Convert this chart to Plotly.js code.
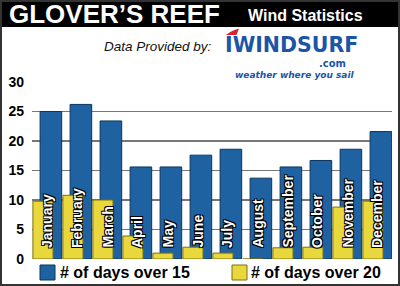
<!DOCTYPE html>
<html><head><meta charset="utf-8">
<script src="https://cdn.plot.ly/plotly-3.0.1.min.js"></script>
<style>html,body{margin:0;padding:0;background:#fff;}#c{width:400px;height:286px;}</style>
</head><body><div id="c"></div>
<script>
const months = ["January","February","March","April","May","June","July","August","September","October","November","December"];
const over15 = [25.0, 26.2, 23.4, 15.6, 15.6, 17.6, 18.6, 13.7, 15.6, 16.7, 18.6, 21.6];
const over20 = [9.8, 10.8, 10.0, 3.9, 1.0, 2.0, 1.0, 0, 1.9, 2.0, 8.8, 9.8];
const yTicks = [0, 5, 10, 15, 20, 25, 30];
const legendLabels = ["# of days over 15", "# of days over 20"];

const W = 400, H = 286, L = 32, R = 8, T = 82, B = 27;
const pw = W - L - R, ph = H - T - B;
const px = x => (x - L) / pw;
const py = y => (H - B - y) / ph;
const xs = months.map((m, i) => i);

const blue = '#1f62a2', blueLine = '#0b355e';
const yellow = '#e9d83c', yellowLine = '#7d7010';

const traces = [
  {type: 'bar', x: xs, y: over15, name: legendLabels[0], offset: -0.23, width: 0.72,
   marker: {color: blue, line: {color: blueLine, width: 1}}, hoverinfo: 'skip'},
  {type: 'bar', x: xs, y: over20, name: legendLabels[1], offset: -0.47, width: 0.67,
   marker: {color: yellow, line: {color: yellowLine, width: 1}}, hoverinfo: 'skip'}
];

const outline = '1px 1px 0 #000, -1px -1px 0 #000, 1px -1px 0 #000, -1px 1px 0 #000';
const ann = months.map((m, i) => ({
  x: i, y: 0, xref: 'x', yref: 'y', text: m, showarrow: false, textangle: -90,
  xanchor: 'center', yanchor: 'bottom', yshift: 9,
  font: {family: 'Liberation Sans, Arial, sans-serif', size: 14, color: '#fff', weight: 'bold', shadow: outline}
}));

function txt(text, x, y, opts) {
  return Object.assign({text, x: px(x), y: py(y), xref: 'paper', yref: 'paper', showarrow: false,
    xanchor: 'left', yanchor: 'middle'}, opts);
}
ann.push(txt("GLOVER’S REEF", 7, 14, {font: {family: 'Liberation Sans, Arial, sans-serif', size: 26, color: '#fff', weight: 'bold'}}));
ann.push(txt("Wind Statistics", 246, 15, {font: {family: 'Liberation Sans, Arial, sans-serif', size: 16, color: '#fff', weight: 'bold'}}));
ann.push(txt("Data Provided by:", 102, 47, {font: {family: 'Liberation Sans, sans-serif', size: 13.5, color: '#111', style: 'italic'}}));
ann.push(txt("IWINDSURF", 223, 45, {font: {family: 'DejaVu Sans, sans-serif', size: 20.5, color: '#1a55a8', weight: 'bold'}}));
ann.push(txt(".com", 317, 63.5, {font: {family: 'DejaVu Sans, sans-serif', size: 10, color: '#1a55a8', weight: 'bold'}}));
ann.push(txt("weather where you sail", 233, 75.5, {font: {family: 'DejaVu Sans, sans-serif', size: 9, color: '#1a55a8', weight: 'bold', style: 'italic'}}));
ann.push(txt(legendLabels[0], 58, 272, {font: {family: 'Liberation Sans, Arial, sans-serif', size: 16, color: '#000', weight: 'bold'}}));
ann.push(txt(legendLabels[1], 249, 272, {font: {family: 'Liberation Sans, Arial, sans-serif', size: 16, color: '#000', weight: 'bold'}}));

function rect(x0, y0, x1, y1, fill, line, lw) {
  return {type: 'rect', xref: 'paper', yref: 'paper', x0: px(x0), x1: px(x1), y0: py(y0), y1: py(y1),
    fillcolor: fill, line: {color: line || fill, width: lw === undefined ? 0 : lw}, layer: 'above'};
}
const shapes = [
  Object.assign(rect(0, 0, 400, 27, '#000'), {layer: 'below'}),
  rect(40, 265, 55, 280, blue, blueLine, 1),
  rect(232, 265, 247, 280, yellow, yellowLine, 1),
  {type: 'path', xref: 'paper', yref: 'paper', layer: 'above', fillcolor: '#d8262b', line: {width: 0},
   path: `M${px(226)},${py(35)} Q${px(231)},${py(30.5)} ${px(239)},${py(28.5)} L${px(236.5)},${py(35)} Z`},
  Object.assign(rect(1, 1, 399, 285, 'rgba(0,0,0,0)', '#333', 2), {layer: 'above'})
];

const layout = {
  width: W, height: H, margin: {l: L, r: R, t: T, b: B, pad: 0},
  paper_bgcolor: '#fff', plot_bgcolor: '#fff', barmode: 'overlay', showlegend: false,
  xaxis: {range: [-0.5, 11.5], showticklabels: false, showgrid: false, zeroline: false, ticks: '', fixedrange: true},
  yaxis: {range: [0, 30], tickvals: yTicks, showgrid: true, gridcolor: '#777', gridwidth: 1.8,
    zeroline: false, ticks: '', ticklabelstandoff: 7,
    tickfont: {family: 'Liberation Sans, Arial, sans-serif', size: 14, color: '#000', weight: 'bold'}},
  annotations: ann, shapes: shapes
};
Plotly.newPlot('c', traces, layout, {staticPlot: true, displayModeBar: false});
</script></body></html>
